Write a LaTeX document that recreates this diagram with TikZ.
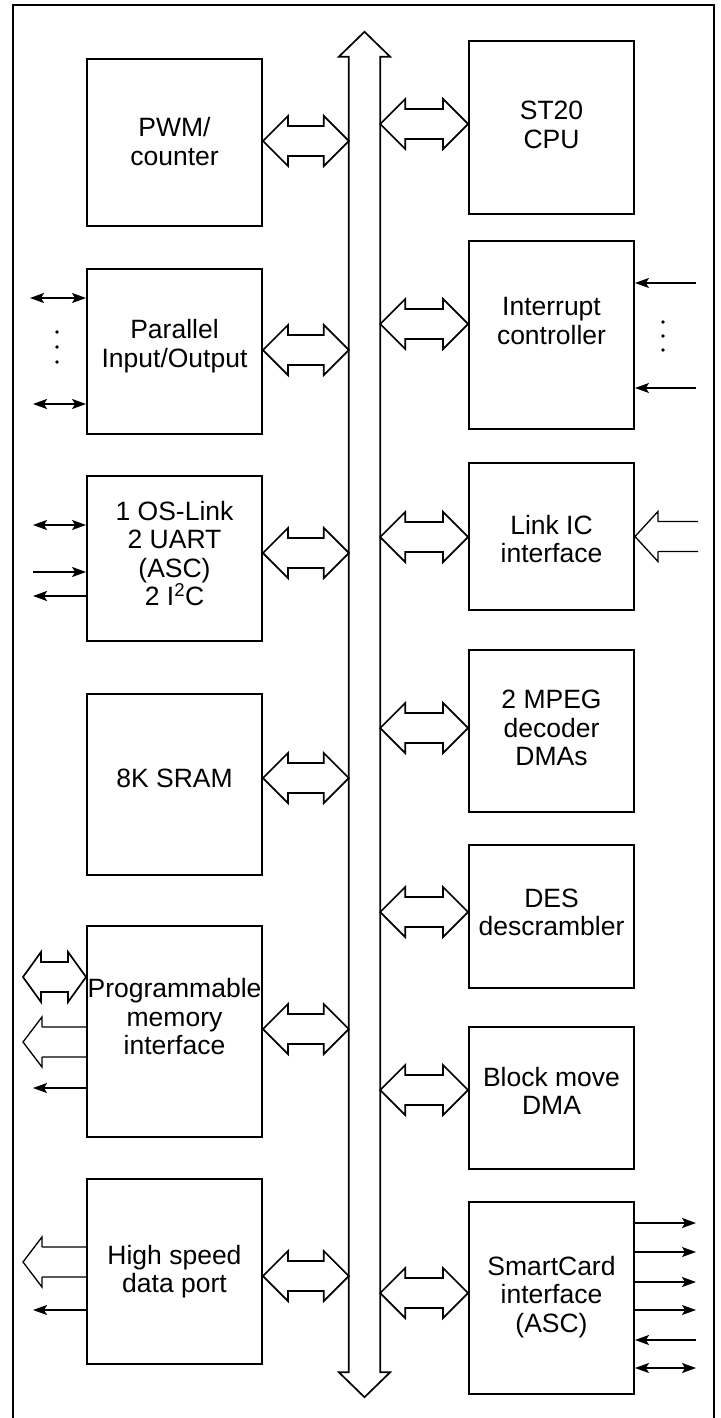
\documentclass[tikz,border=0pt]{standalone}
\usepackage{fontspec}
\setmainfont{Liberation Sans}
\usetikzlibrary{calc,arrows.meta}
\newcommand\lblfont{\fontsize{26.5}{28.5}\selectfont}
\begin{document}
\begin{tikzpicture}[x=1pt,y=-1pt,
  >={Stealth[length=14pt,width=10pt,inset=3pt]},
  box/.style={draw, line width=1.9pt, inner sep=0pt},
  lcol/.style={box, minimum width=175pt},
  rcol/.style={box, minimum width=165pt},
  lbl/.style={align=center, font=\lblfont, inner sep=0pt},
  fat/.style={draw, line width=1.7pt, fill=white, line join=miter},
  openfat/.style={draw, line width=1.3pt, line join=miter},
  sig/.style={line width=1.8pt},
  thinsig/.style={line width=1.1pt},
  % hollow double-headed bus connector, y taken from the start point
  fatdbl/.style={to path={let \p1=(\tikztostart), \p2=(\tikztotarget) in
    (\x1,\y1) -- (\x1+#1,\y1+25pt) -- (\x1+#1,\y1+15pt) -- (\x2-#1,\y1+15pt)
    -- (\x2-#1,\y1+25pt) -- (\x2,\y1) -- (\x2-#1,\y1-25pt) -- (\x2-#1,\y1-15pt)
    -- (\x1+#1,\y1-15pt) -- (\x1+#1,\y1-25pt) -- cycle}},
  fatdbl/.default=25pt,
  % hollow single head at the start point, open shaft towards the target
  fatopen/.style={to path={let \p1=(\tikztostart), \p2=(\tikztotarget) in
    (\x1+#1,\y1+15pt) -- (\x1+#1,\y1+25pt) -- (\x1,\y1) -- (\x1+#1,\y1-25pt) -- (\x1+#1,\y1-15pt)
    (\x1+#1,\y1+15pt) -- (\x2,\y1+15pt)
    (\x1+#1,\y1-15pt) -- (\x2,\y1-15pt)}},
  fatopen/.default=20pt]

\useasboundingbox (0,0) rectangle (720,1418);

% outer frame
\draw[line width=1.5pt] (13,1425) -- (13,5) -- (714,5) -- (714,1425);

% central bus
\node[inner sep=0pt, minimum width=31pt, minimum height=1315pt] (bus) at (364.5,714.5) {};
\draw[fat] (bus.south west) -- ++(-10pt,0pt) -- ($(bus.south)+(0pt,-25pt)$)
  -- ($(bus.south east)+(10pt,0pt)$) -- (bus.south east) -- (bus.north east)
  -- ++(10pt,0pt) -- ($(bus.north)+(0pt,25pt)$) -- ($(bus.north west)+(-10pt,0pt)$)
  -- (bus.north west) -- cycle;

% left column blocks
\node[lcol, minimum height=167pt] (pwm)  at (174.5,142.5) {};
\node[lcol, minimum height=165pt] (pio)  at (174.5,351.5) {};
\node[lcol, minimum height=165pt] (osl)  at (174.5,558.5) {};
\node[lcol, minimum height=181pt] (sram) at (174.5,784.5) {};
\node[lcol, minimum height=211pt] (pmi)  at (174.5,1031.5) {};
\node[lcol, minimum height=185pt] (hsd)  at (174.5,1271.5) {};

% right column blocks
\node[rcol, minimum height=173pt] (cpu)  at (551.5,127.5) {};
\node[rcol, minimum height=188pt] (intc) at (551.5,335) {};
\node[rcol, minimum height=147pt] (lic)  at (551.5,536.5) {};
\node[rcol, minimum height=162pt] (mpeg) at (551.5,731) {};
\node[rcol, minimum height=143pt] (des)  at (551.5,916.5) {};
\node[rcol, minimum height=142pt] (bmd)  at (551.5,1098) {};
\node[rcol, minimum height=192pt] (scd)  at (551.5,1298) {};

% block labels
\node[lbl] (pwm-t)  at ([yshift=1pt]pwm.center)    {PWM/\\counter};
\node[lbl] (pio-t)  at ([yshift=5.5pt]pio.center)  {Parallel\\Input/Output};
\node[lbl] (osl-t)  at ([yshift=5pt]osl.center)    {1 OS-Link\\2 UART\\(ASC)\\2 I\textsuperscript{2}C};
\node[lbl] (sram-t) at ([yshift=6.5pt]sram.center) {8K SRAM};
\node[lbl] (pmi-t)  at ([yshift=14.5pt]pmi.center) {Programmable\\memory\\interface};
\node[lbl] (hsd-t)  at (hsd.center)                {High speed\\data port};
\node[lbl] (cpu-t)  at ([yshift=2.5pt]cpu.center)  {ST20\\CPU};
\node[lbl] (intc-t) at ([yshift=14pt]intc.center)  {Interrupt\\controller};
\node[lbl] (lic-t)  at ([yshift=-2.5pt]lic.center) {Link IC\\interface};
\node[lbl] (mpeg-t) at ([yshift=3pt]mpeg.center)   {2 MPEG\\decoder\\DMAs};
\node[lbl] (des-t)  at ([yshift=4pt]des.center)    {DES\\descrambler};
\node[lbl] (bmd-t)  at ([yshift=7pt]bmd.center)    {Block move\\DMA};
\node[lbl] (scd-t)  at ([yshift=1pt]scd.center)    {SmartCard\\interface\\(ASC)};

% bus ports of each block
\coordinate (pwm-p)  at ([yshift=1.5pt]pwm.east);
\coordinate (pio-p)  at ([yshift=1.5pt]pio.east);
\coordinate (osl-p)  at ([yshift=5.5pt]osl.east);
\coordinate (sram-p) at ([yshift=6.5pt]sram.east);
\coordinate (pmi-p)  at ([yshift=2.5pt]pmi.east);
\coordinate (hsd-p)  at ([yshift=-4.5pt]hsd.east);
\coordinate (cpu-p)  at ([yshift=3.5pt]cpu.west);
\coordinate (intc-p) at ([yshift=11pt]intc.west);
\coordinate (lic-p)  at ([yshift=-0.5pt]lic.west);
\coordinate (mpeg-p) at ([yshift=3pt]mpeg.west);
\coordinate (des-p)  at ([yshift=4.5pt]des.west);
\coordinate (bmd-p)  at ([yshift=8pt]bmd.west);
\coordinate (scd-p)  at ([yshift=5pt]scd.west);

% bus connections
\foreach \b in {pwm,pio,osl,sram,pmi,hsd}
  \draw[fat, fatdbl] (\b-p) to (\b-p -| bus.west);
\foreach \b in {cpu,intc,lic,mpeg,des,bmd,scd}
  \draw[fat, fatdbl] (\b-p -| bus.east) to (\b-p);

% external pins
\coordinate (pio-x1) at (30,298);
\coordinate (pio-x2) at (33,404);
\coordinate (osl-x1) at (33,525);
\coordinate (osl-x2) at (33,572);
\coordinate (osl-x3) at (33,596);
\coordinate (pmi-x1) at (23,977);
\coordinate (pmi-x2) at (23,1042);
\coordinate (pmi-x3) at (33,1088);
\coordinate (hsd-x1) at (23,1262);
\coordinate (hsd-x2) at (33,1310);
\coordinate (intc-x1) at (696,283);
\coordinate (intc-x2) at (696,388);
\coordinate (lic-x) at (698,536.5);
\coordinate (scd-x1) at (696,1223);
\coordinate (scd-x2) at (696,1252);
\coordinate (scd-x3) at (696,1282);
\coordinate (scd-x4) at (696,1310);
\coordinate (scd-x5) at (696,1340);
\coordinate (scd-x6) at (696,1368);

% parallel I/O pins
\draw[sig, <->] (pio-x1) -- (pio-x1 -| pio.west);
\draw[sig, <->] (pio-x2) -- (pio-x2 -| pio.west);
\foreach \yy in {332,347,362} \fill (57,\yy) circle (1.8pt);

% OS-Link / UART / I2C pins
\draw[sig, <->] (osl-x1) -- (osl-x1 -| osl.west);
\draw[sig, ->]  (osl-x2) -- (osl-x2 -| osl.west);
\draw[sig, <-]  (osl-x3) -- (osl-x3 -| osl.west);

% programmable memory interface pins
\draw[fat, fatdbl=18pt] (pmi-x1) to (pmi-x1 -| pmi.west);
\draw[openfat, fatopen=19pt] (pmi-x2) to (pmi-x2 -| pmi.west);
\draw[thinsig, <-] (pmi-x3) -- (pmi-x3 -| pmi.west);

% high speed data port pins
\draw[openfat, fatopen=19pt] (hsd-x1) to (hsd-x1 -| hsd.west);
\draw[sig, <-] (hsd-x2) -- (hsd-x2 -| hsd.west);

% interrupt inputs
\draw[thinsig, ->] (intc-x1) -- (intc-x1 -| intc.east);
\draw[thinsig, ->] (intc-x2) -- (intc-x2 -| intc.east);
\foreach \yy in {322,336,350} \fill (663,\yy) circle (1.8pt);

% link IC input
\draw[openfat, fatopen=23pt] (lic.east) to (lic-x);

% smartcard pins
\draw[sig, ->]     (scd-x1 -| scd.east) -- (scd-x1);
\draw[thinsig, ->] (scd-x2 -| scd.east) -- (scd-x2);
\draw[sig, ->]     (scd-x3 -| scd.east) -- (scd-x3);
\draw[thinsig, ->] (scd-x4 -| scd.east) -- (scd-x4);
\draw[sig, <-]     (scd-x5 -| scd.east) -- (scd-x5);
\draw[thinsig, <->] (scd-x6 -| scd.east) -- (scd-x6);
\end{tikzpicture}
\end{document}
